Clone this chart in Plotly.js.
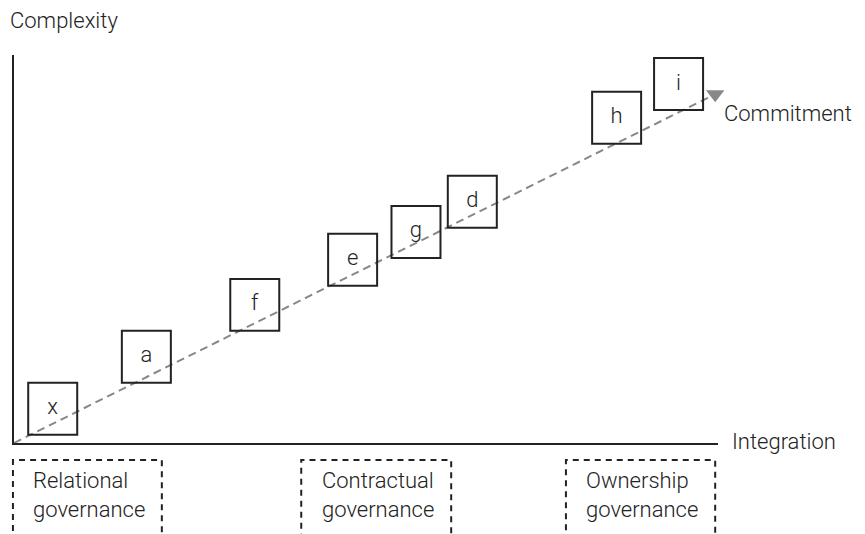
<!DOCTYPE html>
<html>
<head>
<meta charset="utf-8">
<script src="https://cdn.plot.ly/plotly-3.0.1.min.js"></script>
<style>html,body{margin:0;padding:0;background:#fff;}#chart{width:865px;height:534px;}</style>
</head>
<body>
<div id="chart"></div>
<script>
// Box labels and their positions (integration, complexity) on a 0-100 scale
var boxLabels = ['x', 'a', 'f', 'e', 'g', 'd', 'h', 'i'];
var boxIntegration = [5.5, 18.8, 34.2, 48.1, 57.1, 65.1, 85.6, 94.4];
var boxComplexity = [8.8, 22.2, 35.6, 47.2, 54.4, 62.2, 83.8, 92.5];

// Commitment trend line (start and end)
var trendX = [0, 99.6];
var trendY = [0, 89.9];

// Governance categories and their integration spans
var govLabels = ['Relational<br>governance', 'Contractual<br>governance', 'Ownership<br>governance'];
var govStart = [-0.15, 40.8, 78.4];
var govEnd = [21.0, 62.1, 99.6];

var axisTitles = {x: 'Integration', y: 'Complexity', trend: 'Commitment'};

var XMAX = 100, YMAX = 100;
var BOX_W = 6.96, BOX_H = 13.4;
var FONT = 'Roboto, Liberation Sans, Arial, sans-serif';
var FW = 300;
var FS = 22;
var TXT = '#222';

var shapes = [];
for (var i = 0; i < boxLabels.length; i++) {
  shapes.push({
    type: 'rect', xref: 'x', yref: 'y',
    x0: boxIntegration[i] - BOX_W / 2, x1: boxIntegration[i] + BOX_W / 2,
    y0: boxComplexity[i] - BOX_H / 2, y1: boxComplexity[i] + BOX_H / 2,
    line: {color: '#222', width: 2}, fillcolor: 'rgba(255,255,255,0)', layer: 'above'
  });
}
var annotations = [];
for (var j = 0; j < govLabels.length; j++) {
  shapes.push({
    type: 'rect', xref: 'paper', yref: 'paper',
    x0: govStart[j] / XMAX, x1: govEnd[j] / XMAX,
    y0: -0.3, y1: -0.044,
    line: {color: '#222', width: 2, dash: '6px,5px'}
  });
  annotations.push({
    xref: 'paper', yref: 'paper', x: govStart[j] / XMAX + 0.026, y: -0.058,
    xanchor: 'left', yanchor: 'top', align: 'left', showarrow: false,
    text: govLabels[j], font: {family: FONT, size: FS, weight: FW, color: TXT}
  });
}
annotations.push({
  xref: 'paper', yref: 'paper', x: 1.0165, y: 0.005, xanchor: 'left', yanchor: 'middle',
  showarrow: false, text: axisTitles.x, font: {family: FONT, size: FS, weight: FW, color: TXT}
});
annotations.push({
  xref: 'paper', yref: 'paper', x: -0.008, y: 1.09, xanchor: 'left', yanchor: 'middle',
  showarrow: false, text: axisTitles.y, font: {family: FONT, size: FS, weight: FW, color: TXT}
});
annotations.push({
  xref: 'paper', yref: 'paper', x: trendX[1] / XMAX + 0.01, y: (trendY[1] - 4.9) / YMAX,
  xanchor: 'left', yanchor: 'middle',
  showarrow: false, text: axisTitles.trend, font: {family: FONT, size: FS, weight: FW, color: TXT}
});

var traces = [
  {
    x: trendX, y: trendY, mode: 'lines', type: 'scatter',
    line: {color: '#888', width: 2, dash: '8px,5px'}, hoverinfo: 'skip', cliponaxis: false
  },
  {
    x: [trendX[1]], y: [trendY[1]], mode: 'markers', type: 'scatter',
    marker: {symbol: 'triangle-down', size: 16, color: '#888', line: {width: 0}},
    hoverinfo: 'skip', cliponaxis: false
  },
  {
    x: boxIntegration, y: boxComplexity, text: boxLabels, mode: 'text', type: 'scatter',
    textfont: {family: FONT, size: FS, weight: FW, color: TXT}, textposition: 'middle center',
    hoverinfo: 'skip', cliponaxis: false
  }
];

var layout = {
  width: 865, height: 534,
  margin: {l: 14, r: 147, t: 55, b: 91},
  paper_bgcolor: '#fff', plot_bgcolor: '#fff',
  showlegend: false,
  xaxis: {range: [0, XMAX], showline: true, linecolor: '#222', linewidth: 2, showgrid: false,
          zeroline: false, showticklabels: false, ticks: '', fixedrange: true},
  yaxis: {range: [0, YMAX], showline: true, linecolor: '#222', linewidth: 2, showgrid: false,
          zeroline: false, showticklabels: false, ticks: '', fixedrange: true},
  shapes: shapes,
  annotations: annotations
};

Plotly.newPlot('chart', traces, layout, {staticPlot: true, displayModeBar: false});
</script>
</body>
</html>
